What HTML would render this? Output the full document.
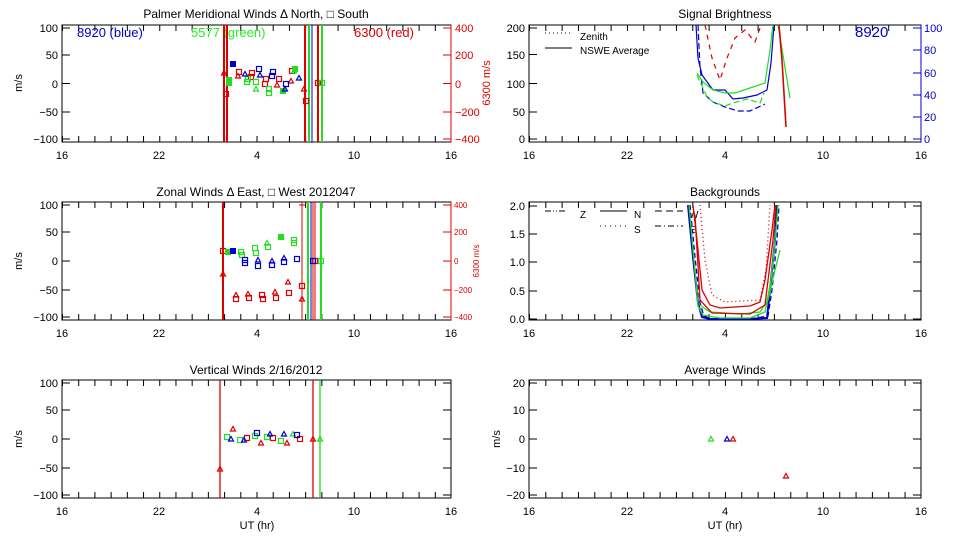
<!DOCTYPE html>
<html><head><meta charset="utf-8"><style>
html,body{margin:0;padding:0;background:#fff}
svg{display:block}
text{font-family:"Liberation Sans","DejaVu Sans",sans-serif;font-size:11px;fill:#000}
.t{font-size:12px;text-anchor:middle}
.yl{text-anchor:end}
.xl{text-anchor:middle}
</style></head><body>
<svg width="960" height="540" viewBox="0 0 960 540" xmlns="http://www.w3.org/2000/svg">
<defs>
<path id="tr" d="M-2.5,2 L2.5,2 L0,-2.5Z" fill="none" stroke-width="1.2"/>
<rect id="sq" x="-2.5" y="-2.5" width="5" height="5" fill="none" stroke-width="1.2"/>
<rect id="sf" x="-2.5" y="-2.5" width="5" height="5" stroke-width="1"/>
</defs>

<!-- ============ TOP LEFT ============ -->
<text class="t" x="256" y="18">Palmer Meridional Winds Δ North, □ South</text>
<rect x="62" y="25" width="389" height="117" fill="none" stroke="#000"/>
<line x1="62" y1="28" x2="451" y2="28" stroke="#000" stroke-width="6" stroke-dasharray="1 15.21" stroke-dashoffset="-16.2"/>
<line x1="62" y1="139" x2="451" y2="139" stroke="#000" stroke-width="6" stroke-dasharray="1 15.21" stroke-dashoffset="-16.2"/>
<g stroke="#000"><path d="M62,28h8M62,55h8M62,83.5h8M62,112h8M62,139h8"/></g>
<g stroke="#d00" fill="none"><path d="M451,25v117M451,28h-8M451,55h-8M451,83.5h-8M451,112h-8M451,139h-8"/></g>
<g class="yl"><text x="58" y="32">100</text><text x="58" y="59">50</text><text x="58" y="88">0</text><text x="58" y="116">−50</text><text x="58" y="143">−100</text></g>
<g fill="#d00"><text x="455" y="32" style="fill:#d00">400</text><text x="455" y="59" style="fill:#d00">200</text><text x="455" y="88" style="fill:#d00">0</text><text x="455" y="116" style="fill:#d00">−200</text><text x="455" y="143" style="fill:#d00">−400</text></g>
<text transform="translate(490,83) rotate(-90)" text-anchor="middle" style="fill:#d00">6300 m/s</text>
<text transform="translate(22,83) rotate(-90)" text-anchor="middle">m/s</text>
<g class="xl"><text x="62" y="159">16</text><text x="159" y="159">22</text><text x="257" y="159">4</text><text x="354" y="159">10</text><text x="451" y="159">16</text></g>
<text x="77" y="37" style="fill:#00c;font-size:13px">8920 (blue)</text>
<text x="191" y="37" style="fill:#2e2;font-size:13px">5577 (green)</text>
<text x="354" y="37" style="fill:#d00;font-size:13px">6300 (red)</text>
<g stroke-width="2"><path d="M224,25v117M227,25v117M305,25v117M318,25v117" stroke="#d00"/><path d="M309,25v117M322,25v117" stroke="#2d2"/></g>
<path d="M312,25v117" stroke="#00c"/>
<g stroke="#d00" fill="none">
<use href="#tr" x="224" y="73"/><use href="#sq" x="226" y="94"/><use href="#sq" x="239" y="72"/><use href="#tr" x="238" y="76"/><use href="#sq" x="252" y="73"/><use href="#sq" x="251" y="77"/><use href="#sq" x="266" y="79"/><use href="#sq" x="265" y="84"/><use href="#sq" x="279" y="79"/><use href="#tr" x="277" y="85"/><use href="#sq" x="292" y="71"/><use href="#tr" x="291" y="81"/><use href="#tr" x="304" y="89"/><use href="#sq" x="306" y="101"/><use href="#sq" x="318" y="83"/>
</g>
<g stroke="#2d2" fill="#2d2">
<use href="#sf" x="229" y="80"/><use href="#sf" x="229" y="83"/><use href="#sq" x="247" y="82" fill="none"/><use href="#sq" x="248" y="79" fill="none"/><use href="#tr" x="256" y="89" fill="none"/><use href="#sq" x="256" y="82" fill="none"/><use href="#sq" x="269" y="89" fill="none"/><use href="#sq" x="269" y="93" fill="none"/><use href="#sf" x="283" y="91"/><use href="#sf" x="295" y="69"/><use href="#tr" x="294" y="71" fill="none"/><use href="#sq" x="322" y="83" fill="none"/>
</g>
<g stroke="#00c" fill="#00c">
<use href="#sf" x="233" y="64"/><use href="#tr" x="245" y="74"/><use href="#sq" x="259" y="69" fill="none"/><use href="#tr" x="260" y="75"/><use href="#sq" x="273" y="72" fill="none"/><use href="#sq" x="272" y="76" fill="none"/><use href="#sq" x="286" y="84" fill="none"/><use href="#tr" x="285" y="89"/><use href="#tr" x="299" y="78"/>
</g>

<!-- ============ TOP RIGHT ============ -->
<text class="t" x="725" y="18">Signal Brightness</text>
<rect x="529" y="25" width="392" height="117" fill="none" stroke="#000"/>
<line x1="529" y1="28" x2="921" y2="28" stroke="#000" stroke-width="6" stroke-dasharray="1 15.33" stroke-dashoffset="-16.3"/>
<line x1="529" y1="139" x2="921" y2="139" stroke="#000" stroke-width="6" stroke-dasharray="1 15.33" stroke-dashoffset="-16.3"/>
<g stroke="#000"><path d="M529,28h8M529,54.5h8M529,83.5h8M529,112h8M529,139h8"/></g>
<g stroke="#00c"><path d="M921,25v117M921,28h-8M921,50h-8M921,73h-8M921,95h-8M921,117h-8M921,139h-8"/></g>
<g class="yl"><text x="525" y="32">200</text><text x="525" y="59">150</text><text x="525" y="88">100</text><text x="525" y="116">50</text><text x="525" y="143">0</text></g>
<g><text x="924" y="32" style="fill:#00c">100</text><text x="924" y="54" style="fill:#00c">80</text><text x="924" y="77" style="fill:#00c">60</text><text x="924" y="99" style="fill:#00c">40</text><text x="924" y="121" style="fill:#00c">20</text><text x="924" y="143" style="fill:#00c">0</text></g>
<g class="xl"><text x="529" y="159">16</text><text x="627" y="159">22</text><text x="725" y="159">4</text><text x="823" y="159">10</text><text x="921" y="159">16</text></g>
<path d="M545,33h25" stroke="#000" stroke-dasharray="1 3"/><text x="580" y="40" style="font-size:10px">Zenith</text>
<path d="M545,48h27" stroke="#000"/><text x="580" y="54" style="font-size:10px">NSWE Average</text>
<text x="855" y="37" style="fill:#00c;font-size:15px">8920</text>
<g fill="none" stroke-width="1.2">
<polyline stroke="#00c" points="696,25 698,58 702,75 713,90 725,90 733,99 743,98 757,95 767,90 771,63 774,25"/>
<polyline stroke="#00c" stroke-dasharray="6 3" points="698,25 700,67 703,93 713,102 725,107 738,111 750,111 765,104"/>
<polyline stroke="#2d2" points="697,73 703,82 713,90 725,93 735,93 753,87 765,83 770,50 773,25"/>
<polyline stroke="#2d2" stroke-dasharray="6 3" points="697,75 707,97 713,102 725,106 733,103 747,99 760,103 764,93"/>
<polyline stroke="#2d2" points="778,25 790,98"/>
<polyline stroke="#d00" stroke-width="1.6" points="779,25 782,60 786,127"/>
<polyline stroke="#d00" stroke-dasharray="5 5" points="705,25 712,58 720,80 727,58 735,38 745,30 755,42 760,28"/>
</g>

<!-- ============ MID LEFT ============ -->
<text class="t" x="256" y="196">Zonal Winds Δ East, □ West 2012047</text>
<rect x="62" y="202" width="389" height="118" fill="none" stroke="#000"/>
<line x1="62" y1="205" x2="451" y2="205" stroke="#000" stroke-width="6" stroke-dasharray="1 15.21" stroke-dashoffset="-16.2"/>
<line x1="62" y1="317" x2="451" y2="317" stroke="#000" stroke-width="6" stroke-dasharray="1 15.21" stroke-dashoffset="-16.2"/>
<g stroke="#000"><path d="M62,205h8M62,232h8M62,261h8M62,290h8M62,317h8"/></g>
<g stroke="#d00"><path d="M451,202v118M451,205h-8M451,232h-8M451,261h-8M451,290h-8M451,317h-8"/></g>
<g class="yl"><text x="58" y="209">100</text><text x="58" y="236">50</text><text x="58" y="265">0</text><text x="58" y="294">−50</text><text x="58" y="321">−100</text></g>
<g style="font-size:8px"><text x="454" y="208" style="fill:#d00;font-size:8px">400</text><text x="454" y="235" style="fill:#d00;font-size:8px">200</text><text x="454" y="264" style="fill:#d00;font-size:8px">0</text><text x="454" y="293" style="fill:#d00;font-size:8px">−200</text><text x="454" y="320" style="fill:#d00;font-size:8px">−400</text></g>
<text transform="translate(479,261) rotate(-90)" text-anchor="middle" style="fill:#d00;font-size:8px">6300 m/s</text>
<text transform="translate(22,261) rotate(-90)" text-anchor="middle">m/s</text>
<g class="xl"><text x="62" y="337">16</text><text x="159" y="337">22</text><text x="257" y="337">4</text><text x="354" y="337">10</text><text x="451" y="337">16</text></g>
<g stroke-width="2"><path d="M223,202v118" stroke="#d00"/><path d="M308,202v118M321,202v118" stroke="#2d2"/></g>
<path d="M302,202v118M313,202v118M315,202v118M302,205h-3h6" stroke="#d00"/>
<path d="M311,202v118" stroke="#00c"/>
<g stroke="#d00" fill="none">
<use href="#sq" x="223" y="251"/><use href="#tr" x="223" y="274"/>
<use href="#tr" x="236" y="295"/><use href="#sq" x="236" y="299"/><use href="#tr" x="248" y="294"/><use href="#sq" x="249" y="298"/><use href="#sq" x="262" y="295"/><use href="#sq" x="263" y="299"/><use href="#tr" x="275" y="292"/><use href="#sq" x="276" y="298"/><use href="#tr" x="288" y="282"/><use href="#sq" x="289" y="293"/><use href="#sq" x="302" y="286"/><use href="#tr" x="302" y="299"/><use href="#sq" x="315" y="261"/>
</g>
<g stroke="#2d2" fill="#2d2">
<use href="#sf" x="228" y="252"/><use href="#sq" x="241" y="252" fill="none"/><use href="#sq" x="242" y="255" fill="none"/><use href="#sq" x="255" y="248" fill="none"/><use href="#sq" x="256" y="253" fill="none"/><use href="#tr" x="267" y="243" fill="none"/><use href="#sq" x="268" y="247" fill="none"/><use href="#sf" x="281" y="237"/><use href="#sq" x="294" y="240" fill="none"/><use href="#sq" x="294" y="243" fill="none"/><use href="#sq" x="321" y="261" fill="none"/>
</g>
<g stroke="#00c" fill="#00c">
<use href="#sf" x="233" y="251"/><use href="#sq" x="245" y="260" fill="none"/><use href="#sq" x="245" y="263" fill="none"/><use href="#tr" x="258" y="260"/><use href="#sq" x="258" y="266" fill="none"/><use href="#tr" x="272" y="261"/><use href="#sq" x="272" y="265" fill="none"/><use href="#tr" x="284" y="258"/><use href="#sq" x="284" y="262" fill="none"/><use href="#sq" x="297" y="259" fill="none"/><use href="#sq" x="313" y="261" fill="none"/>
</g>

<!-- ============ MID RIGHT ============ -->
<text class="t" x="725" y="196">Backgrounds</text>
<rect x="529" y="202" width="392" height="118" fill="none" stroke="#000"/>
<line x1="529" y1="205" x2="921" y2="205" stroke="#000" stroke-width="6" stroke-dasharray="1 15.33" stroke-dashoffset="-16.3"/>
<line x1="529" y1="317" x2="921" y2="317" stroke="#000" stroke-width="6" stroke-dasharray="1 15.33" stroke-dashoffset="-16.3"/>
<g stroke="#000"><path d="M529,206h8M529,234h8M529,262h8M529,291h8M529,319h8M921,206h-8M921,234h-8M921,262h-8M921,291h-8M921,319h-8"/></g>
<g class="yl"><text x="525" y="210">2.0</text><text x="525" y="238">1.5</text><text x="525" y="266">1.0</text><text x="525" y="295">0.5</text><text x="525" y="323">0.0</text></g>
<g class="xl"><text x="529" y="337">16</text><text x="627" y="337">22</text><text x="725" y="337">4</text><text x="823" y="337">10</text><text x="921" y="337">16</text></g>
<g stroke="#000" fill="none"><path d="M545,211h22" stroke-dasharray="6 2 1 2 1 2"/><path d="M600,211h27"/><path d="M655,211h28" stroke-dasharray="7 4"/><path d="M600,226h27" stroke-dasharray="1 4"/><path d="M655,226h28" stroke-dasharray="6 3 1 3"/></g>
<g style="font-size:10px"><text x="580" y="218" style="font-size:10px">Z</text><text x="634" y="218" style="font-size:10px">N</text><text x="689" y="218" style="font-size:10px">W</text><text x="634" y="233" style="font-size:10px">S</text><text x="689" y="233" style="font-size:10px">E</text></g>
<g fill="none" stroke-width="1.3">
<polyline stroke="#00c" stroke-width="2" points="688,205 693,257 698,303 702,317 710,319 747,319 767,318 770,290 775,240 777,205"/>
<polyline stroke="#00c" stroke-dasharray="5 3" points="690,205 695,257 700,303 704,316 712,319 750,319 768,316 772,290 777,240 779,205"/>
<polyline stroke="#2d2" points="689,205 694,260 698,306 703,315 720,318 750,318 765,312 771,280 776,230 778,205"/>
<polyline stroke="#2d2" points="700,305 710,312 740,314 760,312 768,300 775,270 780,250"/>
<polyline stroke="#d00" points="693,205 697,240 702,290 710,305 720,308 750,306 760,302 765,280 772,230 775,205"/>
<polyline stroke="#d00" points="695,215 700,300 712,313 750,314 765,305 773,240 776,205"/>
<polyline stroke="#d00" stroke-dasharray="1 3" points="700,205 705,260 712,295 725,302 760,300 766,270 770,205"/>
</g>

<!-- ============ BOTTOM LEFT ============ -->
<text class="t" x="256" y="374">Vertical Winds 2/16/2012</text>
<rect x="62" y="380" width="389" height="118" fill="none" stroke="#000"/>
<line x1="62" y1="383" x2="451" y2="383" stroke="#000" stroke-width="6" stroke-dasharray="1 15.21" stroke-dashoffset="-16.2"/>
<line x1="62" y1="495" x2="451" y2="495" stroke="#000" stroke-width="6" stroke-dasharray="1 15.21" stroke-dashoffset="-16.2"/>
<g stroke="#000"><path d="M62,383h8M62,410h8M62,439h8M62,468h8M62,495h8M451,383h-8M451,410h-8M451,439h-8M451,468h-8M451,495h-8"/></g>
<g class="yl"><text x="58" y="387">100</text><text x="58" y="414">50</text><text x="58" y="443">0</text><text x="58" y="472">−50</text><text x="58" y="499">−100</text></g>
<text transform="translate(22,439) rotate(-90)" text-anchor="middle">m/s</text>
<g class="xl"><text x="62" y="515">16</text><text x="159" y="515">22</text><text x="257" y="515">4</text><text x="354" y="515">10</text><text x="451" y="515">16</text></g>
<text class="xl" x="257" y="529">UT (hr)</text>
<path d="M220,380v118M313,380v118" stroke="#d00" stroke-width="1.3"/><path d="M320,380v118" stroke="#2d2" stroke-width="1.3"/>
<g stroke="#d00" fill="none">
<use href="#tr" x="220" y="469"/><use href="#tr" x="233" y="429" fill="#d00"/><use href="#sq" x="247" y="438"/><use href="#tr" x="261" y="443"/><use href="#sq" x="273" y="438"/><use href="#tr" x="287" y="443"/><use href="#sq" x="300" y="439"/><use href="#tr" x="313" y="439"/>
</g>
<g stroke="#2d2" fill="none">
<use href="#sq" x="227" y="437"/><use href="#sq" x="240" y="440"/><use href="#sq" x="255" y="436"/><use href="#sq" x="267" y="437"/><use href="#sq" x="281" y="441"/><use href="#tr" x="293" y="434" fill="#2d2"/><use href="#tr" x="320" y="439"/>
</g>
<g stroke="#00c" fill="#00c">
<use href="#tr" x="231" y="439"/><use href="#tr" x="244" y="440"/><use href="#sq" x="257" y="433" fill="none"/><use href="#tr" x="270" y="434"/><use href="#tr" x="284" y="434"/><use href="#sq" x="297" y="435" fill="none"/>
</g>

<!-- ============ BOTTOM RIGHT ============ -->
<text class="t" x="725" y="374">Average Winds</text>
<rect x="529" y="380" width="392" height="118" fill="none" stroke="#000"/>
<line x1="529" y1="383" x2="921" y2="383" stroke="#000" stroke-width="6" stroke-dasharray="1 15.33" stroke-dashoffset="-16.3"/>
<line x1="529" y1="495" x2="921" y2="495" stroke="#000" stroke-width="6" stroke-dasharray="1 15.33" stroke-dashoffset="-16.3"/>
<g stroke="#000"><path d="M529,383h8M529,410h8M529,439h8M529,468h8M529,495h8M921,383h-8M921,410h-8M921,439h-8M921,468h-8M921,495h-8"/></g>
<g class="yl"><text x="525" y="387">20</text><text x="525" y="414">10</text><text x="525" y="443">0</text><text x="525" y="472">−10</text><text x="525" y="499">−20</text></g>
<text transform="translate(500,439) rotate(-90)" text-anchor="middle">m/s</text>
<g class="xl"><text x="529" y="515">16</text><text x="627" y="515">22</text><text x="725" y="515">4</text><text x="823" y="515">10</text><text x="921" y="515">16</text></g>
<text class="xl" x="725" y="529">UT (hr)</text>
<use href="#tr" x="711" y="439" stroke="#2d2"/><use href="#tr" x="727" y="439" stroke="#00c"/><use href="#tr" x="733" y="439" stroke="#d00"/><use href="#tr" x="786" y="476" stroke="#d00"/>
</svg>
</body></html>
